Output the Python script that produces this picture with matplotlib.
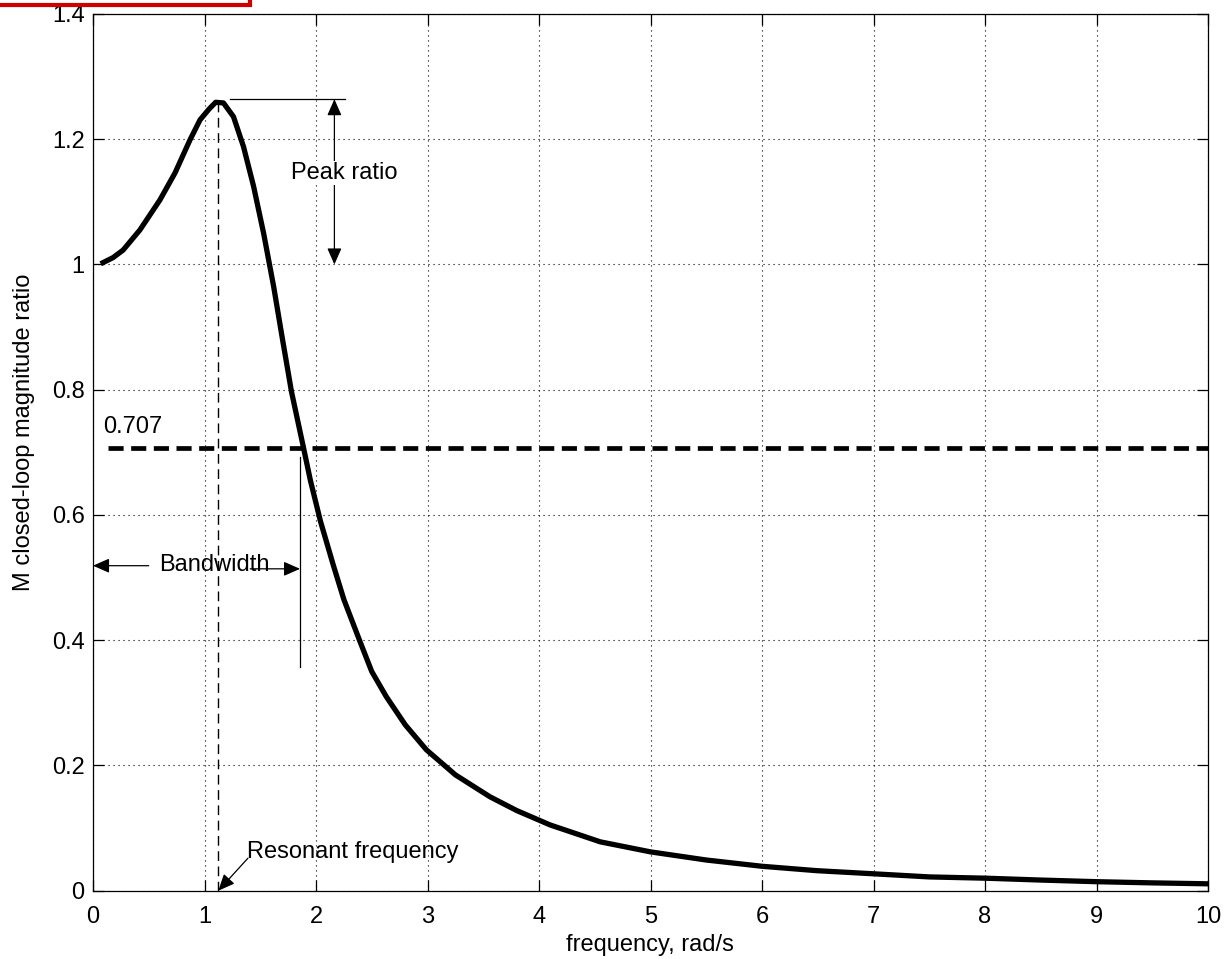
import matplotlib
matplotlib.use("Agg")
import matplotlib.pyplot as plt
from matplotlib.patches import Rectangle

plt.rcParams['font.family'] = ['Liberation Sans', 'DejaVu Sans']

# closed-loop magnitude ratio
omega = [0.09, 0.18, 0.27, 0.42, 0.60, 0.735, 0.87, 0.96, 1.04, 1.10, 1.17,
         1.26, 1.35, 1.44, 1.53, 1.62, 1.70, 1.78, 1.886, 1.95, 2.04, 2.155,
         2.25, 2.39, 2.50, 2.63, 2.80, 2.99, 3.25, 3.56, 3.80, 4.10, 4.30,
         4.55, 5.0, 5.5, 6.0, 6.49, 7.0, 7.5, 8.0, 8.5, 9.0, 9.5, 10.0]
mag = [1.003, 1.011, 1.023, 1.055, 1.103, 1.146, 1.199, 1.231, 1.248, 1.259,
       1.258, 1.236, 1.188, 1.125, 1.050, 0.965, 0.880, 0.797, 0.709, 0.655,
       0.590, 0.520, 0.465, 0.400, 0.350, 0.310, 0.265, 0.225, 0.185, 0.150,
       0.128, 0.105, 0.093, 0.078, 0.062, 0.049, 0.039, 0.032, 0.027, 0.022,
       0.020, 0.017, 0.0144, 0.0125, 0.011]

bw_level = 0.707
bw_freq = 1.857
res_freq = 1.124
peak = 1.264

xticks = list(range(0, 11))
yticks = [0, 0.2, 0.4, 0.6, 0.8, 1.0, 1.2, 1.4]
yticklabels = ['0', '0.2', '0.4', '0.6', '0.8', '1', '1.2', '1.4']

fs = 17

fig = plt.figure(figsize=(12.24, 9.59), dpi=100)
ax = fig.add_axes([93 / 1224, 1 - 890.7 / 959, 1115 / 1224, 876.7 / 959])

ax.plot(omega, mag, color='black', lw=3.8, solid_joinstyle='round', zorder=5)

# 0.707 level
ax.plot([0.135, 10], [bw_level, bw_level], color='black', lw=3.4,
        dashes=(3.2, 1.6), zorder=4)
ax.text(0.09, 0.731, '0.707', fontsize=fs, ha='left', va='baseline')

# resonant frequency line
ax.plot([res_freq, res_freq], [0, 1.26], color='black', lw=1.0,
        dashes=(7, 4), zorder=3)

# peak ratio
ax.plot([1.23, 2.26], [peak, peak], color='black', lw=0.9, zorder=3)
arrow_kw = dict(arrowstyle='-|>,head_length=0.5,head_width=0.22',
                color='black', lw=0.9, mutation_scale=20,
                shrinkA=0, shrinkB=0)
ax.annotate('', xy=(2.165, peak), xytext=(2.165, 1.135), arrowprops=arrow_kw)
ax.annotate('', xy=(2.165, 1.0), xytext=(2.165, 1.16), arrowprops=arrow_kw)
ax.text(2.25, 1.146, 'Peak ratio', fontsize=fs, ha='center', va='center',
        bbox=dict(facecolor='white', edgecolor='none', pad=1), zorder=6)

# bandwidth
ax.plot([bw_freq, bw_freq], [0.358, 0.693], color='black', lw=0.9, zorder=3)
ax.annotate('', xy=(0.0, 0.519), xytext=(0.5, 0.519), arrowprops=arrow_kw)
ax.annotate('', xy=(bw_freq, 0.514), xytext=(1.41, 0.514), arrowprops=arrow_kw)
ax.text(1.085, 0.52, 'Bandwidth', fontsize=fs, ha='center', va='center', zorder=6)

# resonant frequency label
ax.annotate('', xy=(res_freq, 0.0), xytext=(1.39, 0.052), arrowprops=arrow_kw)
ax.text(1.38, 0.062, 'Resonant frequency', fontsize=fs, ha='left', va='center')

ax.set_xlim(0, 10)
ax.set_ylim(0, 1.4)
ax.set_xticks(xticks)
ax.set_yticks(yticks)
ax.set_yticklabels(yticklabels)
ax.tick_params(direction='in', length=8, width=0.9, top=True, right=True,
               labelsize=fs)
ax.tick_params(axis='x', pad=11)
ax.tick_params(axis='y', pad=6)
ax.grid(True, color='black', lw=0.8, linestyle=(0, (1, 3.5)))
for sp in ax.spines.values():
    sp.set_linewidth(0.9)

ax.set_xlabel('frequency, rad/s', fontsize=fs)
ax.xaxis.set_label_coords(0.4996, -0.049)
ax.set_ylabel('M closed-loop magnitude ratio', fontsize=fs)
ax.yaxis.set_label_coords(-0.052, 0.523)

# red frame corner at top left
fig.add_artist(Rectangle((-0.02, 1 - 4.7 / 959), 250 / 1224 + 0.02, 0.05,
                         transform=fig.transFigure, fill=False,
                         edgecolor='#d00000', lw=3, clip_on=False))

fig.savefig('out.png', dpi=100)
